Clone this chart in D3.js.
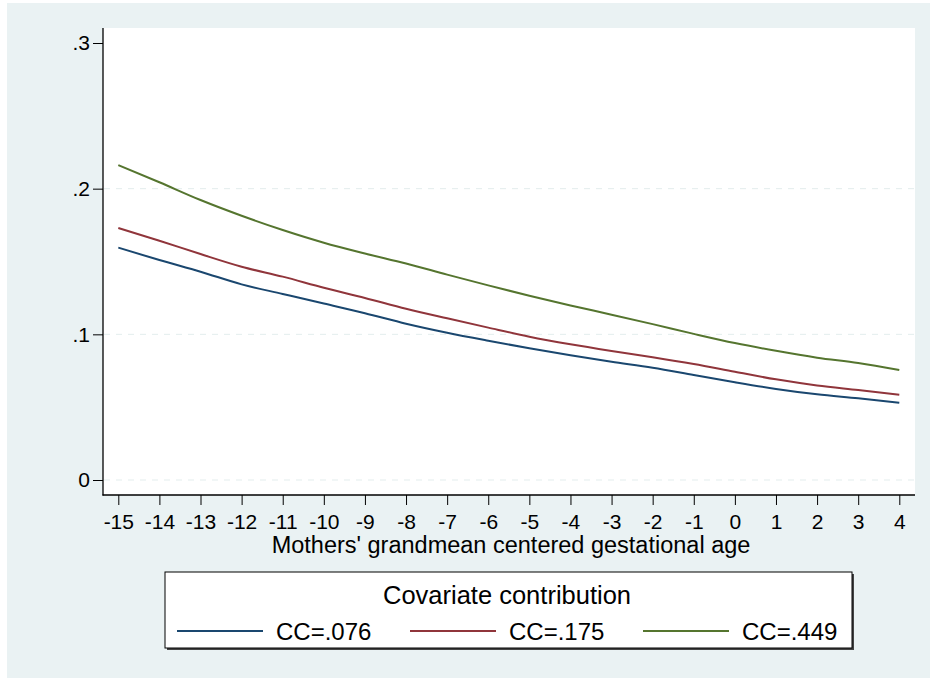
<!DOCTYPE html>
<html>
<head>
<meta charset="utf-8">
<script src="https://cdn.jsdelivr.net/npm/d3@7"></script>
<style>
  html, body { margin: 0; padding: 0; background: #ffffff; }
  svg { display: block; font-family: "Liberation Sans", Arial, sans-serif; }
</style>
</head>
<body>
<svg id="chart" width="930" height="678"></svg>
<script>
// Predicted values by mothers' grandmean-centered gestational age
const ages = [-15, -14, -13, -12, -11, -10, -9, -8, -7, -6, -5, -4, -3, -2, -1, 0, 1, 2, 3, 4];
const cc076 = [0.1595, 0.1510, 0.1430, 0.1343, 0.1277, 0.1211, 0.1145, 0.1073, 0.1011, 0.0956,
               0.0904, 0.0856, 0.0812, 0.0771, 0.0721, 0.0671, 0.0625, 0.0588, 0.0561, 0.0531];
const cc175 = [0.1730, 0.1643, 0.1551, 0.1464, 0.1396, 0.1320, 0.1250, 0.1176, 0.1110, 0.1046,
               0.0984, 0.0932, 0.0886, 0.0843, 0.0796, 0.0743, 0.0691, 0.0649, 0.0618, 0.0586];
const cc449 = [0.2162, 0.2044, 0.1922, 0.1814, 0.1716, 0.1629, 0.1555, 0.1486, 0.1410, 0.1336,
               0.1265, 0.1198, 0.1135, 0.1070, 0.1003, 0.0940, 0.0887, 0.0840, 0.0803, 0.0755];
const seriesNames = ["CC=.076", "CC=.175", "CC=.449"];
const seriesColors = ["#1a476f", "#90353b", "#55752f"];
const yTicks = [0, 0.1, 0.2, 0.3];
const yTickLabels = ["0", ".1", ".2", ".3"];
const xTitle = "Mothers' grandmean centered gestational age";
const legendTitle = "Covariate contribution";

const series = [cc076, cc175, cc449];
const FONT = "Liberation Sans, Arial, sans-serif";

const svg = d3.select("#chart");

// outer graph region
svg.append("rect").attr("x", 7).attr("y", 3).attr("width", 923).attr("height", 675)
  .attr("fill", "#eaf2f3");

// plot region
const plot = { left: 103, top: 28, right: 915, bottom: 495 };
svg.append("rect")
  .attr("x", plot.left).attr("y", plot.top)
  .attr("width", plot.right - plot.left).attr("height", plot.bottom - plot.top)
  .attr("fill", "#ffffff");

const x = d3.scaleLinear().domain([-15, 4]).range([118.3, 899.3]);
const y = d3.scaleLinear().domain([0, 0.3]).range([480, 43]);

// gridlines
svg.append("g").selectAll("line")
  .data(yTicks.filter(t => t < 0.3))
  .join("line")
  .attr("x1", plot.left + 1).attr("x2", plot.right)
  .attr("y1", d => y(d)).attr("y2", d => y(d))
  .attr("stroke", "#e3eded").attr("stroke-width", 1)
  .attr("stroke-dasharray", "6,6");

// series lines
const line = d3.line().x((d, i) => x(ages[i])).y(d => y(d)).curve(d3.curveMonotoneX);
svg.append("g").selectAll("path")
  .data(series)
  .join("path")
  .attr("d", d => line(d))
  .attr("fill", "none")
  .attr("stroke", (d, i) => seriesColors[i])
  .attr("stroke-width", 2)
  .attr("stroke-linejoin", "round");

// y axis
const yAxis = d3.axisLeft(y).tickValues(yTicks)
  .tickFormat((d, i) => yTickLabels[i]).tickSize(10).tickPadding(3);
const gy = svg.append("g").attr("transform", `translate(${plot.left},0)`).call(yAxis);
gy.select(".domain").remove();
gy.selectAll(".tick line").attr("stroke", "#000");
gy.selectAll(".tick text").attr("font-size", 21).attr("fill", "#000").attr("font-family", FONT);
svg.append("line").attr("x1", plot.left).attr("x2", plot.left)
  .attr("y1", plot.top).attr("y2", plot.bottom + 0.5)
  .attr("stroke", "#000").attr("stroke-width", 1.3);

// x axis
const xAxis = d3.axisBottom(x).tickValues(ages).tickFormat(d3.format("d"))
  .tickSize(10).tickPadding(9);
const gx = svg.append("g").attr("transform", `translate(0,${plot.bottom})`).call(xAxis);
gx.select(".domain").remove();
gx.selectAll(".tick line").attr("stroke", "#000");
gx.selectAll(".tick text").attr("font-size", 21).attr("fill", "#000").attr("font-family", FONT)
  .text(d => d < 0 ? "-" + Math.abs(d) : String(d));
svg.append("line").attr("x1", plot.left - 0.5).attr("x2", plot.right)
  .attr("y1", plot.bottom).attr("y2", plot.bottom)
  .attr("stroke", "#000").attr("stroke-width", 1.3);

svg.append("text")
  .attr("x", 511).attr("y", 553)
  .attr("text-anchor", "middle").attr("font-size", 23.5).attr("fill", "#000")
  .text(xTitle);

// legend
const lg = { x: 165, y: 572, w: 687, h: 76 };
svg.append("rect").attr("x", lg.x + 2).attr("y", lg.y + 2).attr("width", lg.w).attr("height", lg.h)
  .attr("fill", "#444");
svg.append("rect").attr("x", lg.x).attr("y", lg.y).attr("width", lg.w).attr("height", lg.h)
  .attr("fill", "#fff").attr("stroke", "#000").attr("stroke-width", 1);
svg.append("text").attr("x", 507).attr("y", 604)
  .attr("text-anchor", "middle").attr("font-size", 25.5).attr("fill", "#000")
  .text(legendTitle);

const keyX = [177, 410, 643];
const entries = svg.append("g").selectAll("g").data(seriesNames).join("g")
  .attr("transform", (d, i) => `translate(${keyX[i]},0)`);
entries.append("line").attr("x1", 0).attr("x2", 86).attr("y1", 631).attr("y2", 631)
  .attr("stroke", (d, i) => seriesColors[i]).attr("stroke-width", 2);
entries.append("text").attr("x", 99).attr("y", 640)
  .attr("font-size", 24).attr("fill", "#000").text(d => d);
</script>
</body>
</html>
